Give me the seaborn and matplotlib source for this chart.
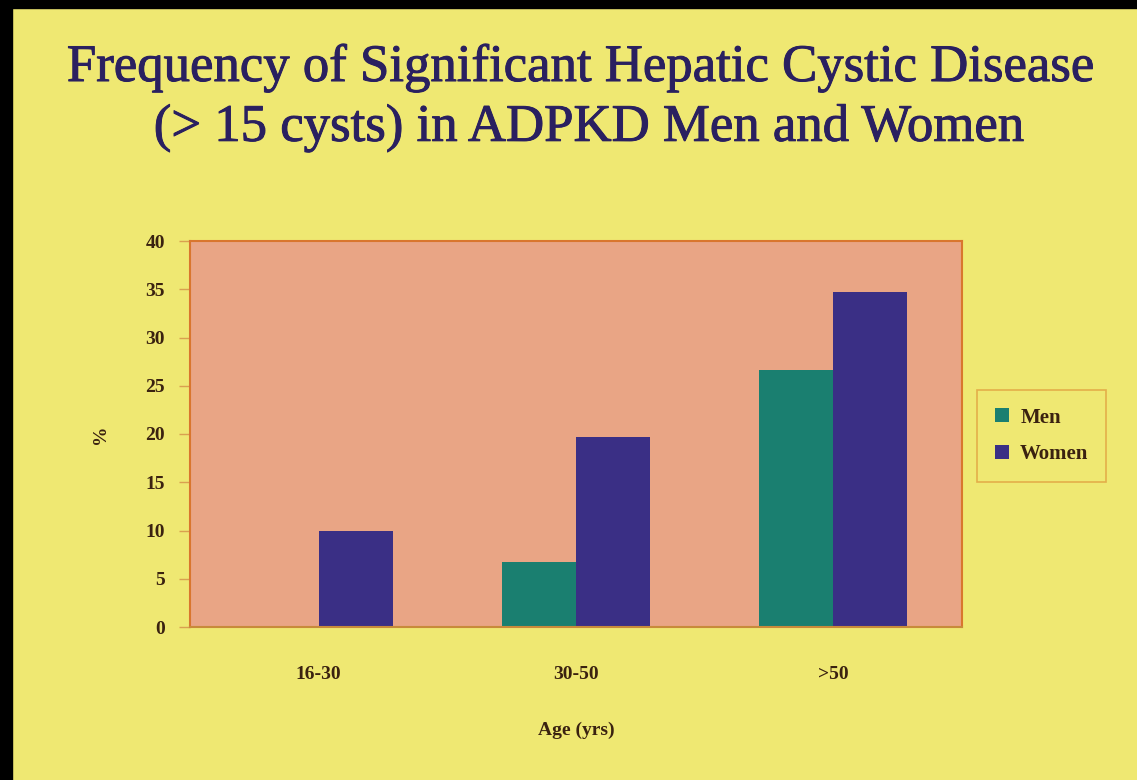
import matplotlib.pyplot as plt
import matplotlib.patheffects as pe
import seaborn as sns
import pandas as pd
from matplotlib.patches import Rectangle

# datos
age_groups = ["16-30", "30-50", ">50"]
men = [0.0, 6.7, 26.6]
women = [9.9, 19.7, 34.7]

df = pd.DataFrame({
    "Age": age_groups * 2,
    "Sex": ["Men"] * 3 + ["Women"] * 3,
    "Pct": men + women,
})

bg = "#efe872"
sns.set_style(rc={"axes.facecolor": "#e9a585", "figure.facecolor": bg,
                  "axes.edgecolor": "#d9762e", "axes.grid": False})
plt.rcParams["font.family"] = ["Liberation Serif", "DejaVu Serif"]

fig = plt.figure(figsize=(11.37, 7.8), dpi=100)
ax = fig.add_axes([190 / 1137, 1 - 627 / 780, 772 / 1137, 386 / 780])

sns.barplot(data=df, x="Age", y="Pct", hue="Sex", ax=ax, width=0.576,
            palette={"Men": "#1a7f70", "Women": "#3a2f85"},
            saturation=1, edgecolor="none")

ax.set_ylim(0, 40)
ax.set_yticks(range(0, 41, 5))
ax.set_xlim(-0.5, 2.5)
for s in ax.spines.values():
    s.set_linewidth(1.5)
    s.set_color("#d9762e")
ax.spines["bottom"].set_color("#c88a3a")

txt = "#3a2210"
ax.tick_params(axis="y", direction="out", length=8, width=1, color="#d9a050",
               labelsize=14, labelcolor=txt, pad=10)
ax.tick_params(axis="x", length=0, labelsize=14, labelcolor=txt, pad=28)
for lab in ax.get_xticklabels() + ax.get_yticklabels():
    lab.set_fontweight("bold")

ax.set_xlabel("Age (yrs)", fontsize=14, fontweight="bold", color=txt, labelpad=28)
ax.set_ylabel("%", fontsize=14, fontweight="bold", color=txt, labelpad=26)

leg = ax.legend(title=None, loc="center left", bbox_to_anchor=(1.02, 0.495),
                frameon=True, fancybox=False, fontsize=15, handlelength=0.65,
                handleheight=0.65, borderpad=0.85, labelspacing=0.8,
                handletextpad=0.55, borderaxespad=0)
leg.get_frame().set_facecolor(bg)
leg.get_frame().set_edgecolor("#e0a040")
leg.get_frame().set_linewidth(1.2)
for t in leg.get_texts():
    t.set_fontweight("bold")
    t.set_color(txt)

title_fx = [pe.withStroke(linewidth=0.7, foreground="#2a2060")]
fig.text(580 / 1137, 1 - 68 / 780, "Frequency of Significant Hepatic Cystic Disease",
         ha="center", va="center", fontsize=38, color="#2a2060", path_effects=title_fx)
fig.text(589 / 1137, 1 - 128 / 780, "(> 15 cysts) in ADPKD Men and Women",
         ha="center", va="center", fontsize=38, color="#2a2060", path_effects=title_fx)

# marco negro arriba e izquierda
fig.patches.append(Rectangle((0, 1 - 8 / 780), 1, 8 / 780, transform=fig.transFigure,
                             color="black", zorder=10))
fig.patches.append(Rectangle((0, 0), 12 / 1137, 1, transform=fig.transFigure,
                             color="black", zorder=10))

fig.savefig("out.png", dpi=100, facecolor=bg)
